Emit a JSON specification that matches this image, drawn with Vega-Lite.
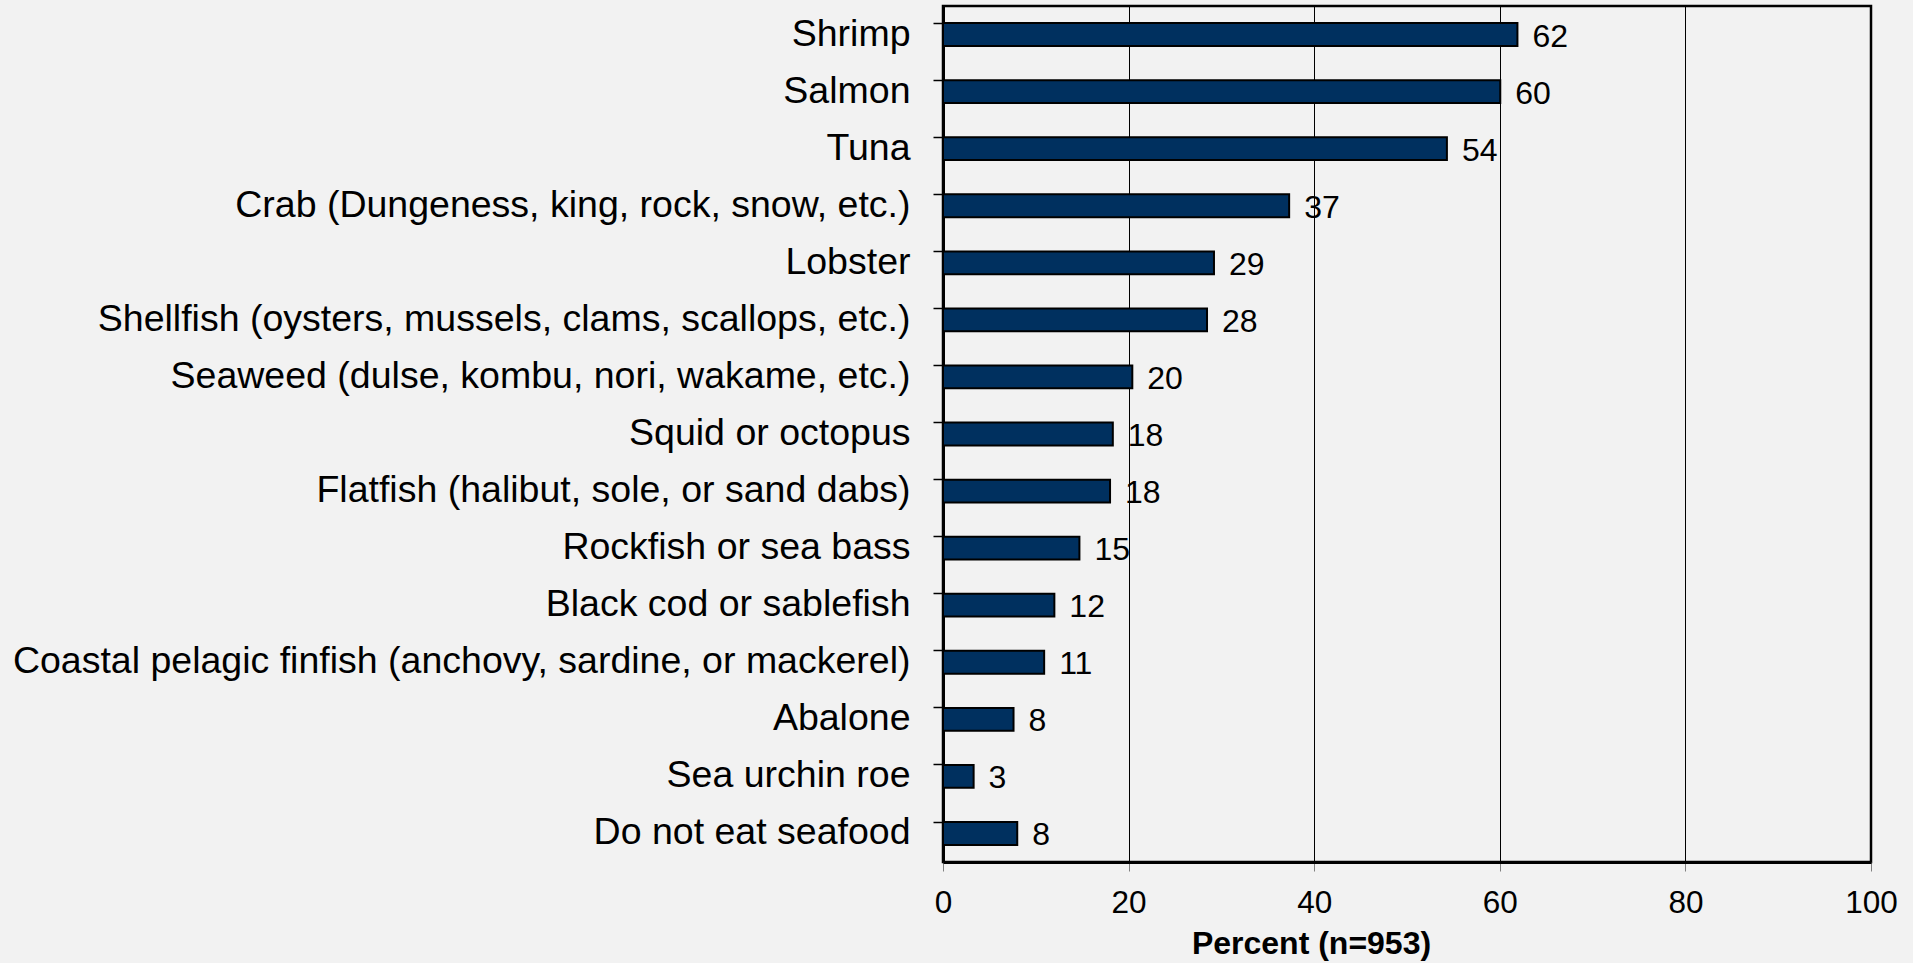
{
  "$schema": "https://vega.github.io/schema/vega-lite/v6.json",
  "width": 928,
  "height": 856,
  "autosize": {"type": "none"},
  "padding": {"left": 943, "top": 6, "right": 42, "bottom": 101},
  "background": "#f2f2f2",
  "config": {
    "view": {"stroke": "#000000", "strokeWidth": 2.5},
    "font": "Liberation Sans"
  },
  "data": {
    "values": [
      {"food": "Shrimp", "pct": 61.9},
      {"food": "Salmon", "pct": 60.05},
      {"food": "Tuna", "pct": 54.3},
      {"food": "Crab (Dungeness, king, rock, snow, etc.)", "pct": 37.3},
      {"food": "Lobster", "pct": 29.2},
      {"food": "Shellfish (oysters, mussels, clams, scallops, etc.)", "pct": 28.45},
      {"food": "Seaweed (dulse, kombu, nori, wakame, etc.)", "pct": 20.4},
      {"food": "Squid or octopus", "pct": 18.3},
      {"food": "Flatfish (halibut, sole, or sand dabs)", "pct": 18.0},
      {"food": "Rockfish or sea bass", "pct": 14.7},
      {"food": "Black cod or sablefish", "pct": 12.0},
      {"food": "Coastal pelagic finfish (anchovy, sardine, or mackerel)", "pct": 10.9},
      {"food": "Abalone", "pct": 7.6},
      {"food": "Sea urchin roe", "pct": 3.3},
      {"food": "Do not eat seafood", "pct": 8.0}
    ]
  },
  "encoding": {
    "y": {
      "field": "food",
      "type": "nominal",
      "sort": null,
      "scale": {"paddingInner": 0.6, "paddingOuter": 0.3},
      "axis": {
        "title": null,
        "labelFontSize": 37.5,
        "labelColor": "#000000",
        "labelPadding": 23,
        "labelLimit": 2000,
        "tickSize": 10,
        "tickColor": "#000000",
        "tickWidth": 1.5,
        "domainColor": "#000000",
        "domainWidth": 3,
        "bandPosition": 0
      }
    },
    "x": {
      "field": "pct",
      "type": "quantitative",
      "scale": {"domain": [0, 100], "nice": false},
      "axis": {
        "values": [0, 20, 40, 60, 80, 100],
        "grid": true,
        "gridColor": "#000000",
        "gridWidth": 1,
        "gridOpacity": 1,
        "domainColor": "#000000",
        "domainWidth": 3,
        "tickSize": 9,
        "tickColor": "#808080",
        "labelFontSize": 31.5,
        "labelColor": "#000000",
        "labelBaseline": "alphabetic",
        "labelPadding": 41,
        "labelFlush": false,
        "title": "Percent (n=953)",
        "titleFontSize": 32,
        "titleFontWeight": "bold",
        "titleColor": "#000000",
        "titleBaseline": "alphabetic",
        "titleAlign": "center",
        "titleAnchor": "start",
        "titleX": 368,
        "titleY": 91
      }
    }
  },
  "layer": [
    {"mark": {"type": "bar", "color": "#00305f", "stroke": "#000000", "strokeWidth": 2}},
    {
      "mark": {"type": "text", "align": "left", "baseline": "middle", "dx": 15, "dy": 2, "fontSize": 32, "color": "#000000"},
      "encoding": {"text": {"field": "pct", "type": "quantitative", "format": ".0f"}}
    }
  ]
}
